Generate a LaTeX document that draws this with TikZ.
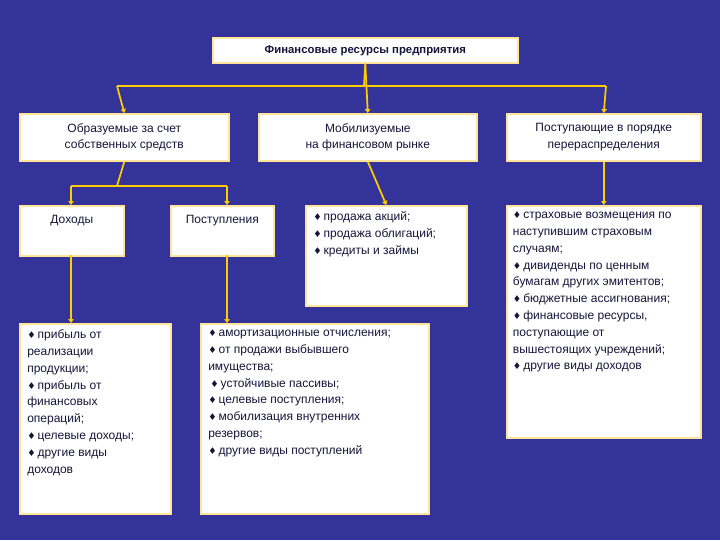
\documentclass[tikz,border=0pt]{standalone}
\usepackage{fontspec}
\setmainfont{Liberation Sans}
\newfontfamily\djfont{DejaVu Sans}
\usetikzlibrary{arrows.meta}
\definecolor{bg}{HTML}{333399}
\definecolor{ln}{HTML}{FFCC00}
\definecolor{bd}{HTML}{FFE49A}
\definecolor{tx}{HTML}{15153A}
\newcommand{\bl}{{\djfont\scriptsize ♦}\,}
\begin{document}
\begin{tikzpicture}[x=0.75pt,y=-0.75pt,
  box/.style={draw=bd,line width=1.2pt,fill=white,anchor=north west,inner sep=0pt},
  lab/.style={text=tx,font=\fontsize{9}{12.6}\selectfont,inner sep=0pt},
  conn/.style={draw=ln,line width=1.3pt},
  arr/.style={conn,-{Triangle[length=3pt,width=4pt]}}]
\fill[bg] (0,0) rectangle (720,540);
\useasboundingbox (0,0) rectangle (720,540);
% boxes
\node[box,minimum width=305*0.75pt,minimum height=25*0.75pt] (T) at (212,37) {};
\node[lab,font=\bfseries\fontsize{8.5}{10}\selectfont] (Tt) at (T.center) {Финансовые ресурсы предприятия};
\node[box,minimum width=209*0.75pt,minimum height=47*0.75pt] (A) at (19,113) {};
\node[lab,align=center] (At) at (A.center) {Образуемые за счет\\собственных средств};
\node[box,minimum width=218*0.75pt,minimum height=47*0.75pt] (B) at (258,113) {};
\node[lab,align=center] (Bt) at (B.center) {Мобилизуемые\\на финансовом рынке};
\node[box,minimum width=194*0.75pt,minimum height=47*0.75pt] (C) at (506,113) {};
\node[lab,align=center] (Ct) at (C.center) {Поступающие в порядке\\перераспределения};
\node[box,minimum width=104*0.75pt,minimum height=50*0.75pt] (D) at (19,205) {};
\node[lab,anchor=north] (Dt) at ([yshift=-7.5pt]D.north) {Доходы};
\node[box,minimum width=103*0.75pt,minimum height=50*0.75pt] (P) at (170,205) {};
\node[lab,anchor=north] (Pt) at ([yshift=-7.5pt]P.north) {Поступления};
\node[box,minimum width=161*0.75pt,minimum height=100*0.75pt] (M) at (305,205) {};
\node[lab,anchor=north west,align=left] (Mt) at ([xshift=6pt,yshift=-5pt]M.north west) {\bl продажа акций;\\\bl продажа облигаций;\\\bl кредиты и займы};
\node[box,minimum width=194*0.75pt,minimum height=232*0.75pt] (R) at (506,205) {};
\node[lab,anchor=north west,align=left] (Rt) at ([xshift=5pt,yshift=-5pt]R.north west) {\bl страховые возмещения по\\наступившим страховым\\случаям;\\\bl дивиденды по ценным\\бумагам других эмитентов;\\\bl бюджетные ассигнования;\\\bl финансовые ресурсы,\\поступающие от\\вышестоящих учреждений;\\\bl другие виды доходов};
\node[box,minimum width=151*0.75pt,minimum height=190*0.75pt] (L) at (19,323) {};
\node[lab,anchor=north west,align=left] (Lt) at ([xshift=6pt,yshift=-5pt]L.north west) {\bl прибыль от\\реализации\\продукции;\\\bl прибыль от\\финансовых\\операций;\\\bl целевые доходы;\\\bl другие виды\\доходов};
\node[box,minimum width=228*0.75pt,minimum height=190*0.75pt] (N) at (200,323) {};
\node[lab,anchor=north west,align=left] (Nt) at ([xshift=6pt,yshift=-5pt]N.north west) {\bl амортизационные отчисления;\\\bl от продажи выбывшего\\имущества;\\\,\bl устойчивые пассивы;\\\bl целевые поступления;\\\bl мобилизация внутренних\\резервов;\\\bl другие виды поступлений};
% connectors
\coordinate (h1) at (364,86);
\coordinate (h2) at (117,186);
\draw[conn] (T.south) -- (h1);
\draw[conn] (117,86) -- (606,86);
\draw[arr] (117,86) -- (A.north);
\draw[arr] (T.south) -- (B.north);
\draw[arr] (606,86) -- (C.north);
\draw[conn] (A.south) -- (h2);
\draw[conn] (71,186) -- (227,186);
\draw[arr] (71,186) -- (71,205);
\draw[arr] (227,186) -- (227,205);
\draw[arr] (B.south) -- (M.north);
\draw[arr] (C.south) -- (R.north);
\draw[arr] (71,255) -- (71,323);
\draw[arr] (227,255) -- (227,323);
\end{tikzpicture}
\end{document}
